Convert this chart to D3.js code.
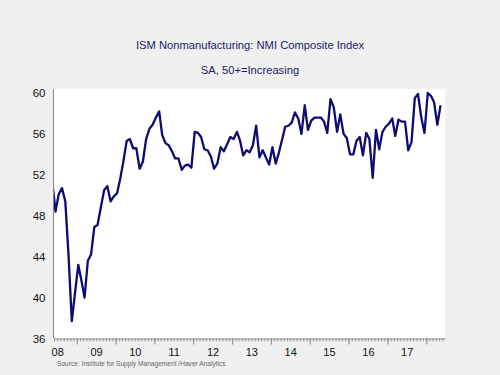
<!DOCTYPE html>
<html>
<head>
<meta charset="utf-8">
<script src="https://cdn.jsdelivr.net/npm/d3@7"></script>
<style>
  body { margin: 0; background: #f0f0f0; }
  .chart text { font-family: "Liberation Sans", Arial, sans-serif; }
</style>
</head>
<body>
<div class="chart"></div>
<script>
// NMI composite, monthly (May 2008 - May 2018)
const nmi2008 = [51.4, 48.4, 50.1, 50.7, 49.4, 44.2, 37.7, 40.4];   // May..Dec
const nmi2009 = [43.2, 41.6, 40.0, 43.6, 44.2, 46.9, 47.1, 48.8, 50.5, 50.9, 49.4, 49.9];
const nmi2010 = [50.2, 51.7, 53.3, 55.3, 55.5, 54.6, 54.6, 52.6, 53.3, 55.5, 56.5, 56.9];
const nmi2011 = [57.6, 58.2, 55.9, 55.1, 54.9, 54.3, 53.6, 53.6, 52.5, 52.9, 53.0, 52.7];
const nmi2012 = [56.2, 56.1, 55.7, 54.5, 54.4, 53.8, 52.6, 53.1, 54.7, 54.3, 55.0, 55.7];
const nmi2013 = [55.5, 56.2, 55.4, 53.9, 54.4, 54.2, 54.9, 56.8, 53.7, 54.4, 53.7, 53.0];
const nmi2014 = [54.7, 53.1, 54.1, 55.4, 56.7, 56.8, 57.1, 58.1, 57.5, 56.0, 58.8, 56.4];
const nmi2015 = [57.3, 57.6, 57.6, 57.6, 57.2, 56.1, 59.4, 58.6, 56.2, 57.9, 56.0, 55.6];
const nmi2016 = [54.0, 54.0, 55.3, 55.7, 53.9, 56.1, 55.5, 51.7, 56.4, 54.5, 56.2, 56.7];
const nmi2017 = [57.0, 57.5, 55.8, 57.4, 57.2, 57.2, 54.4, 55.2, 59.5, 59.9, 57.6, 56.1];
const nmi2018 = [60.0, 59.7, 59.1, 56.9, 58.8];                     // Jan..May

const yTicks = [36, 40, 44, 48, 52, 56, 60];
const yearLabels = [2008, 2009, 2010, 2011, 2012, 2013, 2014, 2015, 2016, 2017];

const title = "ISM Nonmanufacturing: NMI Composite Index";
const subtitle = "SA, 50+=Increasing";
const source = "Source:  Institute for Supply Management /Haver Analytics";

// build the monthly series
const values = [].concat(nmi2008, nmi2009, nmi2010, nmi2011, nmi2012, nmi2013,
                         nmi2014, nmi2015, nmi2016, nmi2017, nmi2018);
const data = values.map((v, i) => ({date: new Date(2008, 4 + i, 15), value: v}));

const W = 500, H = 375;
const plot = {left: 53.5, right: 445, top: 89, bottom: 338.5};

const svg = d3.select(".chart").append("svg")
    .attr("width", W)
    .attr("height", H);

svg.append("rect")
    .attr("width", W).attr("height", H)
    .attr("fill", "#f0f0f0");

svg.append("rect")
    .attr("x", plot.left).attr("y", plot.top)
    .attr("width", plot.right - plot.left)
    .attr("height", plot.bottom - plot.top)
    .attr("fill", "#ffffff");

const x = d3.scaleTime()
    .domain([new Date(2008, 4, 27), new Date(2018, 5, 26)])
    .range([plot.left, plot.right]);

const y = d3.scaleLinear()
    .domain([36, 60])
    .range([plot.bottom, 93]);

// titles
svg.append("text")
    .attr("x", 250).attr("y", 49)
    .attr("text-anchor", "middle")
    .attr("font-size", 11.2)
    .attr("fill", "#1a1a6a")
    .text(title);
svg.append("text")
    .attr("x", 250).attr("y", 73.5)
    .attr("text-anchor", "middle")
    .attr("font-size", 11.2)
    .attr("fill", "#1a1a6a")
    .text(subtitle);

// line, clipped to the plot
svg.append("clipPath").attr("id", "clip")
  .append("rect")
    .attr("x", plot.left).attr("y", plot.top)
    .attr("width", plot.right - plot.left)
    .attr("height", plot.bottom - plot.top);

const line = d3.line()
    .x(d => x(d.date))
    .y(d => y(d.value));

svg.append("path")
    .datum(data)
    .attr("clip-path", "url(#clip)")
    .attr("fill", "none")
    .attr("stroke", "#0c0c72")
    .attr("stroke-width", 2.3)
    .attr("stroke-linejoin", "round")
    .attr("d", line);

// y axis
const yAxis = d3.axisLeft(y)
    .tickValues(yTicks)
    .tickSize(0)
    .tickPadding(8);

const gy = svg.append("g")
    .attr("transform", "translate(" + plot.left + ",0)")
    .call(yAxis);
gy.select(".domain").remove();
gy.selectAll("text")
    .attr("font-size", 11.5)
    .attr("fill", "#111");

svg.append("line")
    .attr("x1", plot.left).attr("x2", plot.left)
    .attr("y1", plot.top).attr("y2", plot.bottom)
    .attr("stroke", "#888");

// x axis: monthly minor ticks, yearly major ticks, labels mid-year
const minorAxis = d3.axisBottom(x)
    .ticks(d3.timeMonth.every(1))
    .tickSize(3)
    .tickSizeOuter(0)
    .tickFormat("");
const majorAxis = d3.axisBottom(x)
    .tickValues(d3.range(2009, 2019).map(yr => new Date(yr, 0, 1)))
    .tickSize(6)
    .tickSizeOuter(0)
    .tickFormat("");
const labelAxis = d3.axisBottom(x)
    .tickValues(yearLabels.map(yr => new Date(yr, 6, 1)))
    .tickSize(0)
    .tickPadding(10)
    .tickFormat(d3.timeFormat("%y"));

const gMinor = svg.append("g")
    .attr("transform", "translate(0," + plot.bottom + ")")
    .call(minorAxis);
const gMajor = svg.append("g")
    .attr("transform", "translate(0," + plot.bottom + ")")
    .call(majorAxis);
const gLab = svg.append("g")
    .attr("transform", "translate(0," + plot.bottom + ")")
    .call(labelAxis);

gMinor.selectAll("line").attr("stroke", "#999");
gMinor.select(".domain").attr("stroke", "#888");
gMajor.selectAll("line").attr("stroke", "#888");
gMajor.select(".domain").remove();
gLab.select(".domain").remove();
gLab.selectAll("text")
    .attr("font-size", 11)
    .attr("fill", "#111");

// source note
svg.append("text")
    .attr("x", 57).attr("y", 366)
    .attr("font-size", 6.6)
    .attr("fill", "#666")
    .text(source);
</script>
</body>
</html>
